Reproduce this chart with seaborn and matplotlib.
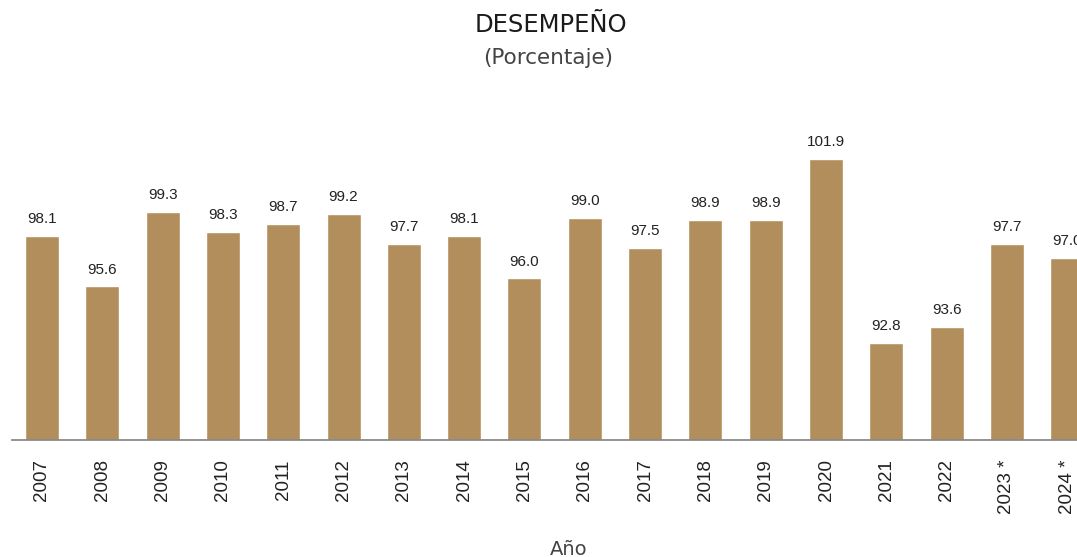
import matplotlib
matplotlib.use("Agg")
import matplotlib.pyplot as plt
import seaborn as sns
import pandas as pd

years = ["2007", "2008", "2009", "2010", "2011", "2012", "2013", "2014", "2015",
         "2016", "2017", "2018", "2019", "2020", "2021", "2022", "2023 *", "2024 *"]
values = [98.1, 95.6, 99.3, 98.3, 98.7, 99.2, 97.7, 98.1, 96.0,
          99.0, 97.5, 98.9, 98.9, 101.9, 92.8, 93.6, 97.7, 97.0]

sns.set_theme(style="white")
plt.rcParams["font.family"] = ["Liberation Sans", "DejaVu Sans"]

df = pd.DataFrame({"year": years, "value": values})

fig = plt.figure(figsize=(10.77, 5.57), dpi=100)
W, H = 1077, 557
ax = fig.add_axes([11.84 / W, 117 / H, 18 * 60.31 / W, 323.2 / H])

sns.barplot(data=df, x="year", y="value", color="#B38E5D", saturation=1,
            width=0.564, ax=ax)
ax.set_ylim(88, 104)
ax.set_xlim(-0.5, len(years) - 0.5)

for i, v in enumerate(values):
    ax.annotate(f"{v:.1f}", (i, v), xytext=(0, 7), textcoords="offset points",
                ha="center", va="bottom", fontsize=11, color="#222222")

ax.set_yticks([])
ax.set_ylabel("")
ax.set_xlabel("")
for s in ["top", "right", "left"]:
    ax.spines[s].set_visible(False)
ax.spines["bottom"].set_color("#8a8a8a")
ax.spines["bottom"].set_linewidth(1.3)
ax.tick_params(axis="x", length=0, pad=14, labelsize=13.5, labelcolor="#222222",
               rotation=90)

fig.text(551 / W, 1 - 25 / H, "DESEMPEÑO", ha="center", va="center",
         fontsize=17.5, color="#1a1a1a", family=["DejaVu Sans"])
fig.text(548 / W, 1 - 58 / H, "(Porcentaje)", ha="center", va="center",
         fontsize=15.5, color="#444444", family=["DejaVu Sans"])
fig.text(569 / W, 2 / H, "Año", ha="center", va="baseline",
         fontsize=14, color="#444444", family=["DejaVu Sans"])

fig.savefig("out.png", dpi=100)
